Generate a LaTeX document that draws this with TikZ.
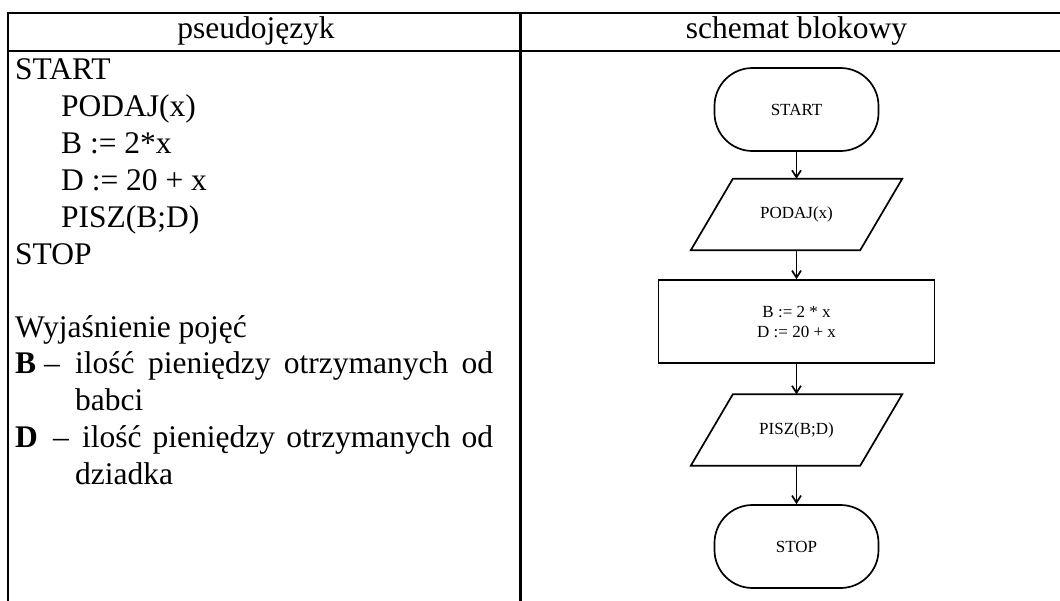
\documentclass[tikz,border=0pt]{standalone}
\usepackage{fontspec}
\setmainfont{Liberation Serif}
\usetikzlibrary{arrows.meta,calc}
\begin{document}
\begin{tikzpicture}[x=1pt,y=-1pt,
  rule/.style={line width=2.4pt},
  big/.style={inner sep=0pt,font=\fontsize{31.5}{37}\selectfont},
  txt/.style={big,anchor=base west},
  head/.style={big,anchor=base},
  flow/.style={line width=1.7pt},
  small/.style={inner sep=0pt,font=\fontsize{17}{20}\selectfont},
  term/.style={small,draw,flow,rounded corners=38pt,minimum width=164pt,minimum height=83pt},
  proc/.style={small,draw,flow,align=center,minimum width=276pt,minimum height=83pt},
  iobox/.style={small,minimum width=211pt,minimum height=71pt},
  link/.style={flow,-{Straight Barb[length=7pt,width=9pt]}}
]
\useasboundingbox (0,0) rectangle (1060,600);
\clip (0,0) rectangle (1060,600);

% table frame
\draw[rule,line join=miter] (8,620) -- (8,13) -- (1080,13);
\draw[rule] (8,51) -- (1080,51);
\draw[rule] (520.5,13) -- (520.5,620);

% column headings
\node[head] (h1) at (256,38) {pseudojęzyk};
\node[head] (h2) at (796.5,38) {schemat blokowy};

% pseudocode
\node[txt] (l1) at (15,79) {START};
\node[txt] (l2) at (61,116) {PODAJ(x)};
\node[txt] (l3) at (61,153) {B := 2*x};
\node[txt] (l4) at (61,190) {D := 20 + x};
\node[txt] (l5) at (61,227) {PISZ(B;D)};
\node[txt] (l6) at (15,264) {STOP};

% glossary
\node[txt] (g0) at (15,337) {Wyjaśnienie pojęć};
\node[txt] (g1) at (15,373.5) {\textbf{B} –};
\node[txt] (g1t) at (75,373.5) {\makebox[418pt][s]{ilość pieniędzy otrzymanych od}};
\node[txt] (g1c) at (75,410) {babci};
\node[txt] (g2) at (15,447) {\textbf{D}};
\node[txt] (g2d) at (53,447) {–};
\node[txt] (g2t) at (82,447) {\makebox[411pt][s]{ilość pieniędzy otrzymanych od}};
\node[txt] (g2c) at (75,484) {dziadka};

% flowchart
\node[term] (start) at (796.5,109.5) {START};
\node[iobox] (in) at (796.5,214.5) {PODAJ(x)};
\node[proc] (calc) at (796.5,321.5) {B := 2 * x\\D := 20 + x};
\node[iobox] (out) at (796.5,430) {PISZ(B;D)};
\node[term] (stop) at (796.5,546.5) {STOP};

\foreach \n in {in,out}
  \draw[flow,line join=miter] ($(\n.north west)+(42,0)$) -- (\n.north east)
    -- ($(\n.south east)+(-42,0)$) -- (\n.south west) -- cycle;

\draw[link] (start.south) -- (in.north);
\draw[link] (in.south) -- (calc.north);
\draw[link] (calc.south) -- (out.north);
\draw[link] (out.south) -- (stop.north);
\end{tikzpicture}
\end{document}
